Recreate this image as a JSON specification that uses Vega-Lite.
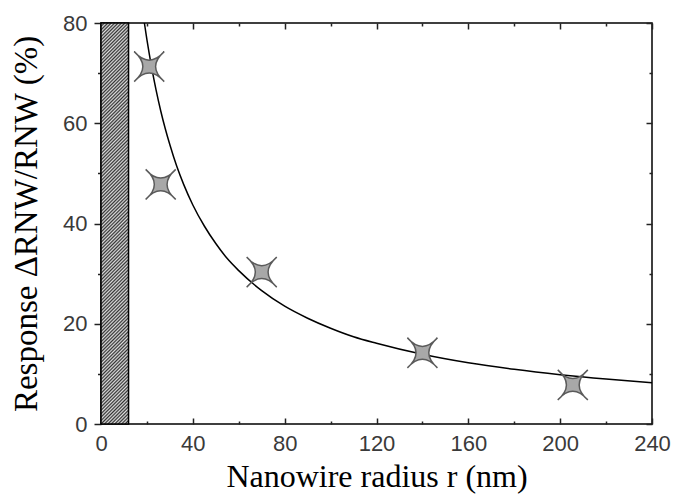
{
  "$schema": "https://vega.github.io/schema/vega-lite/v6.json",
  "width": 551,
  "height": 401,
  "autosize": "none",
  "padding": {"left": 101, "top": 23, "right": 22, "bottom": 74},
  "background": "white",
  "config": {
    "view": {"stroke": "black", "strokeWidth": 1.5},
    "axis": {
      "domain": false,
      "grid": false,
      "labelFont": "Liberation Sans",
      "labelFontSize": 22,
      "labelColor": "#3a3a3a",
      "titleFontSize": 32,
      "titleFontWeight": "normal",
      "titleColor": "black",
      "tickColor": "#222",
      "tickWidth": 1.5,
      "labelFlush": false,
      "labelOverlap": false
    }
  },
  "layer": [
    {
      "data": {"values": [{"r0": 0, "r1": 12, "v0": 0, "v1": 80}]},
      "mark": {
        "type": "rect",
        "stroke": "black",
        "strokeWidth": 1.5,
        "fill": {
          "gradient": "linear",
          "x1": 0, "y1": 0, "x2": 0.0731, "y2": 1.0634,
          "stops": [
            {"offset":0,"color":"#333"},{"offset":0.004,"color":"#ddd"},{"offset":0.008,"color":"#333"},{"offset":0.012,"color":"#ddd"},{"offset":0.016,"color":"#333"},{"offset":0.02,"color":"#ddd"},{"offset":0.024,"color":"#333"},{"offset":0.028,"color":"#ddd"},{"offset":0.032,"color":"#333"},{"offset":0.036,"color":"#ddd"},
            {"offset":0.04,"color":"#333"},{"offset":0.044,"color":"#ddd"},{"offset":0.048,"color":"#333"},{"offset":0.052,"color":"#ddd"},{"offset":0.056,"color":"#333"},{"offset":0.06,"color":"#ddd"},{"offset":0.064,"color":"#333"},{"offset":0.068,"color":"#ddd"},{"offset":0.072,"color":"#333"},{"offset":0.076,"color":"#ddd"},
            {"offset":0.08,"color":"#333"},{"offset":0.084,"color":"#ddd"},{"offset":0.088,"color":"#333"},{"offset":0.092,"color":"#ddd"},{"offset":0.096,"color":"#333"},{"offset":0.1,"color":"#ddd"},{"offset":0.104,"color":"#333"},{"offset":0.108,"color":"#ddd"},{"offset":0.112,"color":"#333"},{"offset":0.116,"color":"#ddd"},
            {"offset":0.12,"color":"#333"},{"offset":0.124,"color":"#ddd"},{"offset":0.128,"color":"#333"},{"offset":0.132,"color":"#ddd"},{"offset":0.136,"color":"#333"},{"offset":0.14,"color":"#ddd"},{"offset":0.144,"color":"#333"},{"offset":0.148,"color":"#ddd"},{"offset":0.152,"color":"#333"},{"offset":0.156,"color":"#ddd"},
            {"offset":0.16,"color":"#333"},{"offset":0.164,"color":"#ddd"},{"offset":0.168,"color":"#333"},{"offset":0.172,"color":"#ddd"},{"offset":0.176,"color":"#333"},{"offset":0.18,"color":"#ddd"},{"offset":0.184,"color":"#333"},{"offset":0.188,"color":"#ddd"},{"offset":0.192,"color":"#333"},{"offset":0.196,"color":"#ddd"},
            {"offset":0.2,"color":"#333"},{"offset":0.204,"color":"#ddd"},{"offset":0.208,"color":"#333"},{"offset":0.212,"color":"#ddd"},{"offset":0.216,"color":"#333"},{"offset":0.22,"color":"#ddd"},{"offset":0.224,"color":"#333"},{"offset":0.228,"color":"#ddd"},{"offset":0.232,"color":"#333"},{"offset":0.236,"color":"#ddd"},
            {"offset":0.24,"color":"#333"},{"offset":0.244,"color":"#ddd"},{"offset":0.248,"color":"#333"},{"offset":0.252,"color":"#ddd"},{"offset":0.256,"color":"#333"},{"offset":0.26,"color":"#ddd"},{"offset":0.264,"color":"#333"},{"offset":0.268,"color":"#ddd"},{"offset":0.272,"color":"#333"},{"offset":0.276,"color":"#ddd"},
            {"offset":0.28,"color":"#333"},{"offset":0.284,"color":"#ddd"},{"offset":0.288,"color":"#333"},{"offset":0.292,"color":"#ddd"},{"offset":0.296,"color":"#333"},{"offset":0.3,"color":"#ddd"},{"offset":0.304,"color":"#333"},{"offset":0.308,"color":"#ddd"},{"offset":0.312,"color":"#333"},{"offset":0.316,"color":"#ddd"},
            {"offset":0.32,"color":"#333"},{"offset":0.324,"color":"#ddd"},{"offset":0.328,"color":"#333"},{"offset":0.332,"color":"#ddd"},{"offset":0.336,"color":"#333"},{"offset":0.34,"color":"#ddd"},{"offset":0.344,"color":"#333"},{"offset":0.348,"color":"#ddd"},{"offset":0.352,"color":"#333"},{"offset":0.356,"color":"#ddd"},
            {"offset":0.36,"color":"#333"},{"offset":0.364,"color":"#ddd"},{"offset":0.368,"color":"#333"},{"offset":0.372,"color":"#ddd"},{"offset":0.376,"color":"#333"},{"offset":0.38,"color":"#ddd"},{"offset":0.384,"color":"#333"},{"offset":0.388,"color":"#ddd"},{"offset":0.392,"color":"#333"},{"offset":0.396,"color":"#ddd"},
            {"offset":0.4,"color":"#333"},{"offset":0.404,"color":"#ddd"},{"offset":0.408,"color":"#333"},{"offset":0.412,"color":"#ddd"},{"offset":0.416,"color":"#333"},{"offset":0.42,"color":"#ddd"},{"offset":0.424,"color":"#333"},{"offset":0.428,"color":"#ddd"},{"offset":0.432,"color":"#333"},{"offset":0.436,"color":"#ddd"},
            {"offset":0.44,"color":"#333"},{"offset":0.444,"color":"#ddd"},{"offset":0.448,"color":"#333"},{"offset":0.452,"color":"#ddd"},{"offset":0.456,"color":"#333"},{"offset":0.46,"color":"#ddd"},{"offset":0.464,"color":"#333"},{"offset":0.468,"color":"#ddd"},{"offset":0.472,"color":"#333"},{"offset":0.476,"color":"#ddd"},
            {"offset":0.48,"color":"#333"},{"offset":0.484,"color":"#ddd"},{"offset":0.488,"color":"#333"},{"offset":0.492,"color":"#ddd"},{"offset":0.496,"color":"#333"},{"offset":0.5,"color":"#ddd"},{"offset":0.504,"color":"#333"},{"offset":0.508,"color":"#ddd"},{"offset":0.512,"color":"#333"},{"offset":0.516,"color":"#ddd"},
            {"offset":0.52,"color":"#333"},{"offset":0.524,"color":"#ddd"},{"offset":0.528,"color":"#333"},{"offset":0.532,"color":"#ddd"},{"offset":0.536,"color":"#333"},{"offset":0.54,"color":"#ddd"},{"offset":0.544,"color":"#333"},{"offset":0.548,"color":"#ddd"},{"offset":0.552,"color":"#333"},{"offset":0.556,"color":"#ddd"},
            {"offset":0.56,"color":"#333"},{"offset":0.564,"color":"#ddd"},{"offset":0.568,"color":"#333"},{"offset":0.572,"color":"#ddd"},{"offset":0.576,"color":"#333"},{"offset":0.58,"color":"#ddd"},{"offset":0.584,"color":"#333"},{"offset":0.588,"color":"#ddd"},{"offset":0.592,"color":"#333"},{"offset":0.596,"color":"#ddd"},
            {"offset":0.6,"color":"#333"},{"offset":0.604,"color":"#ddd"},{"offset":0.608,"color":"#333"},{"offset":0.612,"color":"#ddd"},{"offset":0.616,"color":"#333"},{"offset":0.62,"color":"#ddd"},{"offset":0.624,"color":"#333"},{"offset":0.628,"color":"#ddd"},{"offset":0.632,"color":"#333"},{"offset":0.636,"color":"#ddd"},
            {"offset":0.64,"color":"#333"},{"offset":0.644,"color":"#ddd"},{"offset":0.648,"color":"#333"},{"offset":0.652,"color":"#ddd"},{"offset":0.656,"color":"#333"},{"offset":0.66,"color":"#ddd"},{"offset":0.664,"color":"#333"},{"offset":0.668,"color":"#ddd"},{"offset":0.672,"color":"#333"},{"offset":0.676,"color":"#ddd"},
            {"offset":0.68,"color":"#333"},{"offset":0.684,"color":"#ddd"},{"offset":0.688,"color":"#333"},{"offset":0.692,"color":"#ddd"},{"offset":0.696,"color":"#333"},{"offset":0.7,"color":"#ddd"},{"offset":0.704,"color":"#333"},{"offset":0.708,"color":"#ddd"},{"offset":0.712,"color":"#333"},{"offset":0.716,"color":"#ddd"},
            {"offset":0.72,"color":"#333"},{"offset":0.724,"color":"#ddd"},{"offset":0.728,"color":"#333"},{"offset":0.732,"color":"#ddd"},{"offset":0.736,"color":"#333"},{"offset":0.74,"color":"#ddd"},{"offset":0.744,"color":"#333"},{"offset":0.748,"color":"#ddd"},{"offset":0.752,"color":"#333"},{"offset":0.756,"color":"#ddd"},
            {"offset":0.76,"color":"#333"},{"offset":0.764,"color":"#ddd"},{"offset":0.768,"color":"#333"},{"offset":0.772,"color":"#ddd"},{"offset":0.776,"color":"#333"},{"offset":0.78,"color":"#ddd"},{"offset":0.784,"color":"#333"},{"offset":0.788,"color":"#ddd"},{"offset":0.792,"color":"#333"},{"offset":0.796,"color":"#ddd"},
            {"offset":0.8,"color":"#333"},{"offset":0.804,"color":"#ddd"},{"offset":0.808,"color":"#333"},{"offset":0.812,"color":"#ddd"},{"offset":0.816,"color":"#333"},{"offset":0.82,"color":"#ddd"},{"offset":0.824,"color":"#333"},{"offset":0.828,"color":"#ddd"},{"offset":0.832,"color":"#333"},{"offset":0.836,"color":"#ddd"},
            {"offset":0.84,"color":"#333"},{"offset":0.844,"color":"#ddd"},{"offset":0.848,"color":"#333"},{"offset":0.852,"color":"#ddd"},{"offset":0.856,"color":"#333"},{"offset":0.86,"color":"#ddd"},{"offset":0.864,"color":"#333"},{"offset":0.868,"color":"#ddd"},{"offset":0.872,"color":"#333"},{"offset":0.876,"color":"#ddd"},
            {"offset":0.88,"color":"#333"},{"offset":0.884,"color":"#ddd"},{"offset":0.888,"color":"#333"},{"offset":0.892,"color":"#ddd"},{"offset":0.896,"color":"#333"},{"offset":0.9,"color":"#ddd"},{"offset":0.904,"color":"#333"},{"offset":0.908,"color":"#ddd"},{"offset":0.912,"color":"#333"},{"offset":0.916,"color":"#ddd"},
            {"offset":0.92,"color":"#333"},{"offset":0.924,"color":"#ddd"},{"offset":0.928,"color":"#333"},{"offset":0.932,"color":"#ddd"},{"offset":0.936,"color":"#333"},{"offset":0.94,"color":"#ddd"},{"offset":0.944,"color":"#333"},{"offset":0.948,"color":"#ddd"},{"offset":0.952,"color":"#333"},{"offset":0.956,"color":"#ddd"},
            {"offset":0.96,"color":"#333"},{"offset":0.964,"color":"#ddd"},{"offset":0.968,"color":"#333"},{"offset":0.972,"color":"#ddd"},{"offset":0.976,"color":"#333"},{"offset":0.98,"color":"#ddd"},{"offset":0.984,"color":"#333"},{"offset":0.988,"color":"#ddd"},{"offset":0.992,"color":"#333"},{"offset":0.996,"color":"#ddd"},
            {"offset":1,"color":"#333"}
          ]
        }
      },
      "encoding": {
        "x": {"field": "r0", "type": "quantitative", "scale": {"domain": [0, 240], "nice": false}, "axis": null},
        "x2": {"field": "r1"},
        "y": {"field": "v0", "type": "quantitative", "scale": {"domain": [0, 80], "nice": false}, "axis": null},
        "y2": {"field": "v1"}
      }
    },
    {
      "data": {"values": [
        {"r": 18.9, "v": 80}, {"r": 19.5, "v": 78.2}, {"r": 20, "v": 76.7}, {"r": 21, "v": 73.9},
        {"r": 22, "v": 71.3}, {"r": 24, "v": 66.6}, {"r": 26, "v": 62.5}, {"r": 28, "v": 58.9},
        {"r": 30, "v": 55.7}, {"r": 33, "v": 51.4}, {"r": 36, "v": 47.8}, {"r": 40, "v": 43.7},
        {"r": 45, "v": 39.5}, {"r": 50, "v": 36.0}, {"r": 55, "v": 33.0}, {"r": 60, "v": 30.6},
        {"r": 70, "v": 26.6}, {"r": 80, "v": 23.5}, {"r": 90, "v": 21.1}, {"r": 100, "v": 19.1},
        {"r": 110, "v": 17.4}, {"r": 120, "v": 16.1}, {"r": 140, "v": 13.9}, {"r": 160, "v": 12.2},
        {"r": 180, "v": 10.9}, {"r": 200, "v": 9.84}, {"r": 220, "v": 8.97}, {"r": 240, "v": 8.24}
      ]},
      "mark": {"type": "line", "color": "black", "strokeWidth": 1.5, "interpolate": "monotone"},
      "encoding": {
        "x": {
          "field": "r", "type": "quantitative",
          "scale": {"domain": [0, 240], "nice": false},
          "axis": {
            "orient": "bottom",
            "values": [0, 20, 40, 60, 80, 100, 120, 140, 160, 180, 200, 220, 240],
            "tickSize": {"condition": {"test": "datum.value % 40 === 0", "value": -6}, "value": -3},
            "labelPadding": 15,
            "labelExpr": "datum.value % 40 === 0 ? datum.label : ''",
            "title": "Nanowire radius r (nm)",
            "titleFont": "Liberation Serif",
            "titleFontSize": 32,
            "titlePadding": 4
          }
        },
        "y": {
          "field": "v", "type": "quantitative",
          "scale": {"domain": [0, 80], "nice": false},
          "axis": {
            "orient": "left",
            "values": [0, 10, 20, 30, 40, 50, 60, 70, 80],
            "tickSize": {"condition": {"test": "datum.value % 20 === 0", "value": 7}, "value": 3.5},
            "labelPadding": 7,
            "labelExpr": "datum.value % 20 === 0 ? datum.label : ''",
            "title": "Response ΔRNW/RNW (%)",
            "titleFont": "Liberation Serif",
            "titleFontSize": 33,
            "titlePadding": 19
          }
        }
      }
    },
    {
      "data": {"values": [
        {"r": 21, "v": 71.3}, {"r": 26, "v": 47.8}, {"r": 70, "v": 30.3},
        {"r": 140, "v": 14.2}, {"r": 205.5, "v": 7.8}
      ]},
      "mark": {
        "type": "point",
        "shape": "M-1,-1Q0,0.15,1,-1Q-0.15,0,1,1Q0,-0.15,-1,1Q0.15,0,-1,-1Z",
        "filled": true,
        "fill": "#a8a8a8",
        "stroke": "#5a5a5a",
        "strokeWidth": 1.5,
        "size": 900,
        "opacity": 1
      },
      "encoding": {
        "x": {"field": "r", "type": "quantitative", "axis": null},
        "y": {"field": "v", "type": "quantitative", "axis": null}
      }
    },
    {
      "data": {"values": [{"r": 0, "v": 0}, {"r": 240, "v": 80}]},
      "mark": {"type": "point", "opacity": 0},
      "encoding": {
        "x": {
          "field": "r", "type": "quantitative",
          "axis": {
            "orient": "top",
            "values": [0, 20, 40, 60, 80, 100, 120, 140, 160, 180, 200, 220, 240],
            "tickSize": {"condition": {"test": "datum.value % 40 === 0", "value": -6}, "value": -3},
            "labels": false,
            "title": null
          }
        },
        "y": {
          "field": "v", "type": "quantitative",
          "axis": {
            "orient": "right",
            "values": [0, 10, 20, 30, 40, 50, 60, 70, 80],
            "tickSize": {"condition": {"test": "datum.value % 20 === 0", "value": -6}, "value": -3},
            "labels": false,
            "title": null
          }
        }
      }
    }
  ],
  "resolve": {"axis": {"x": "independent", "y": "independent"}}
}
